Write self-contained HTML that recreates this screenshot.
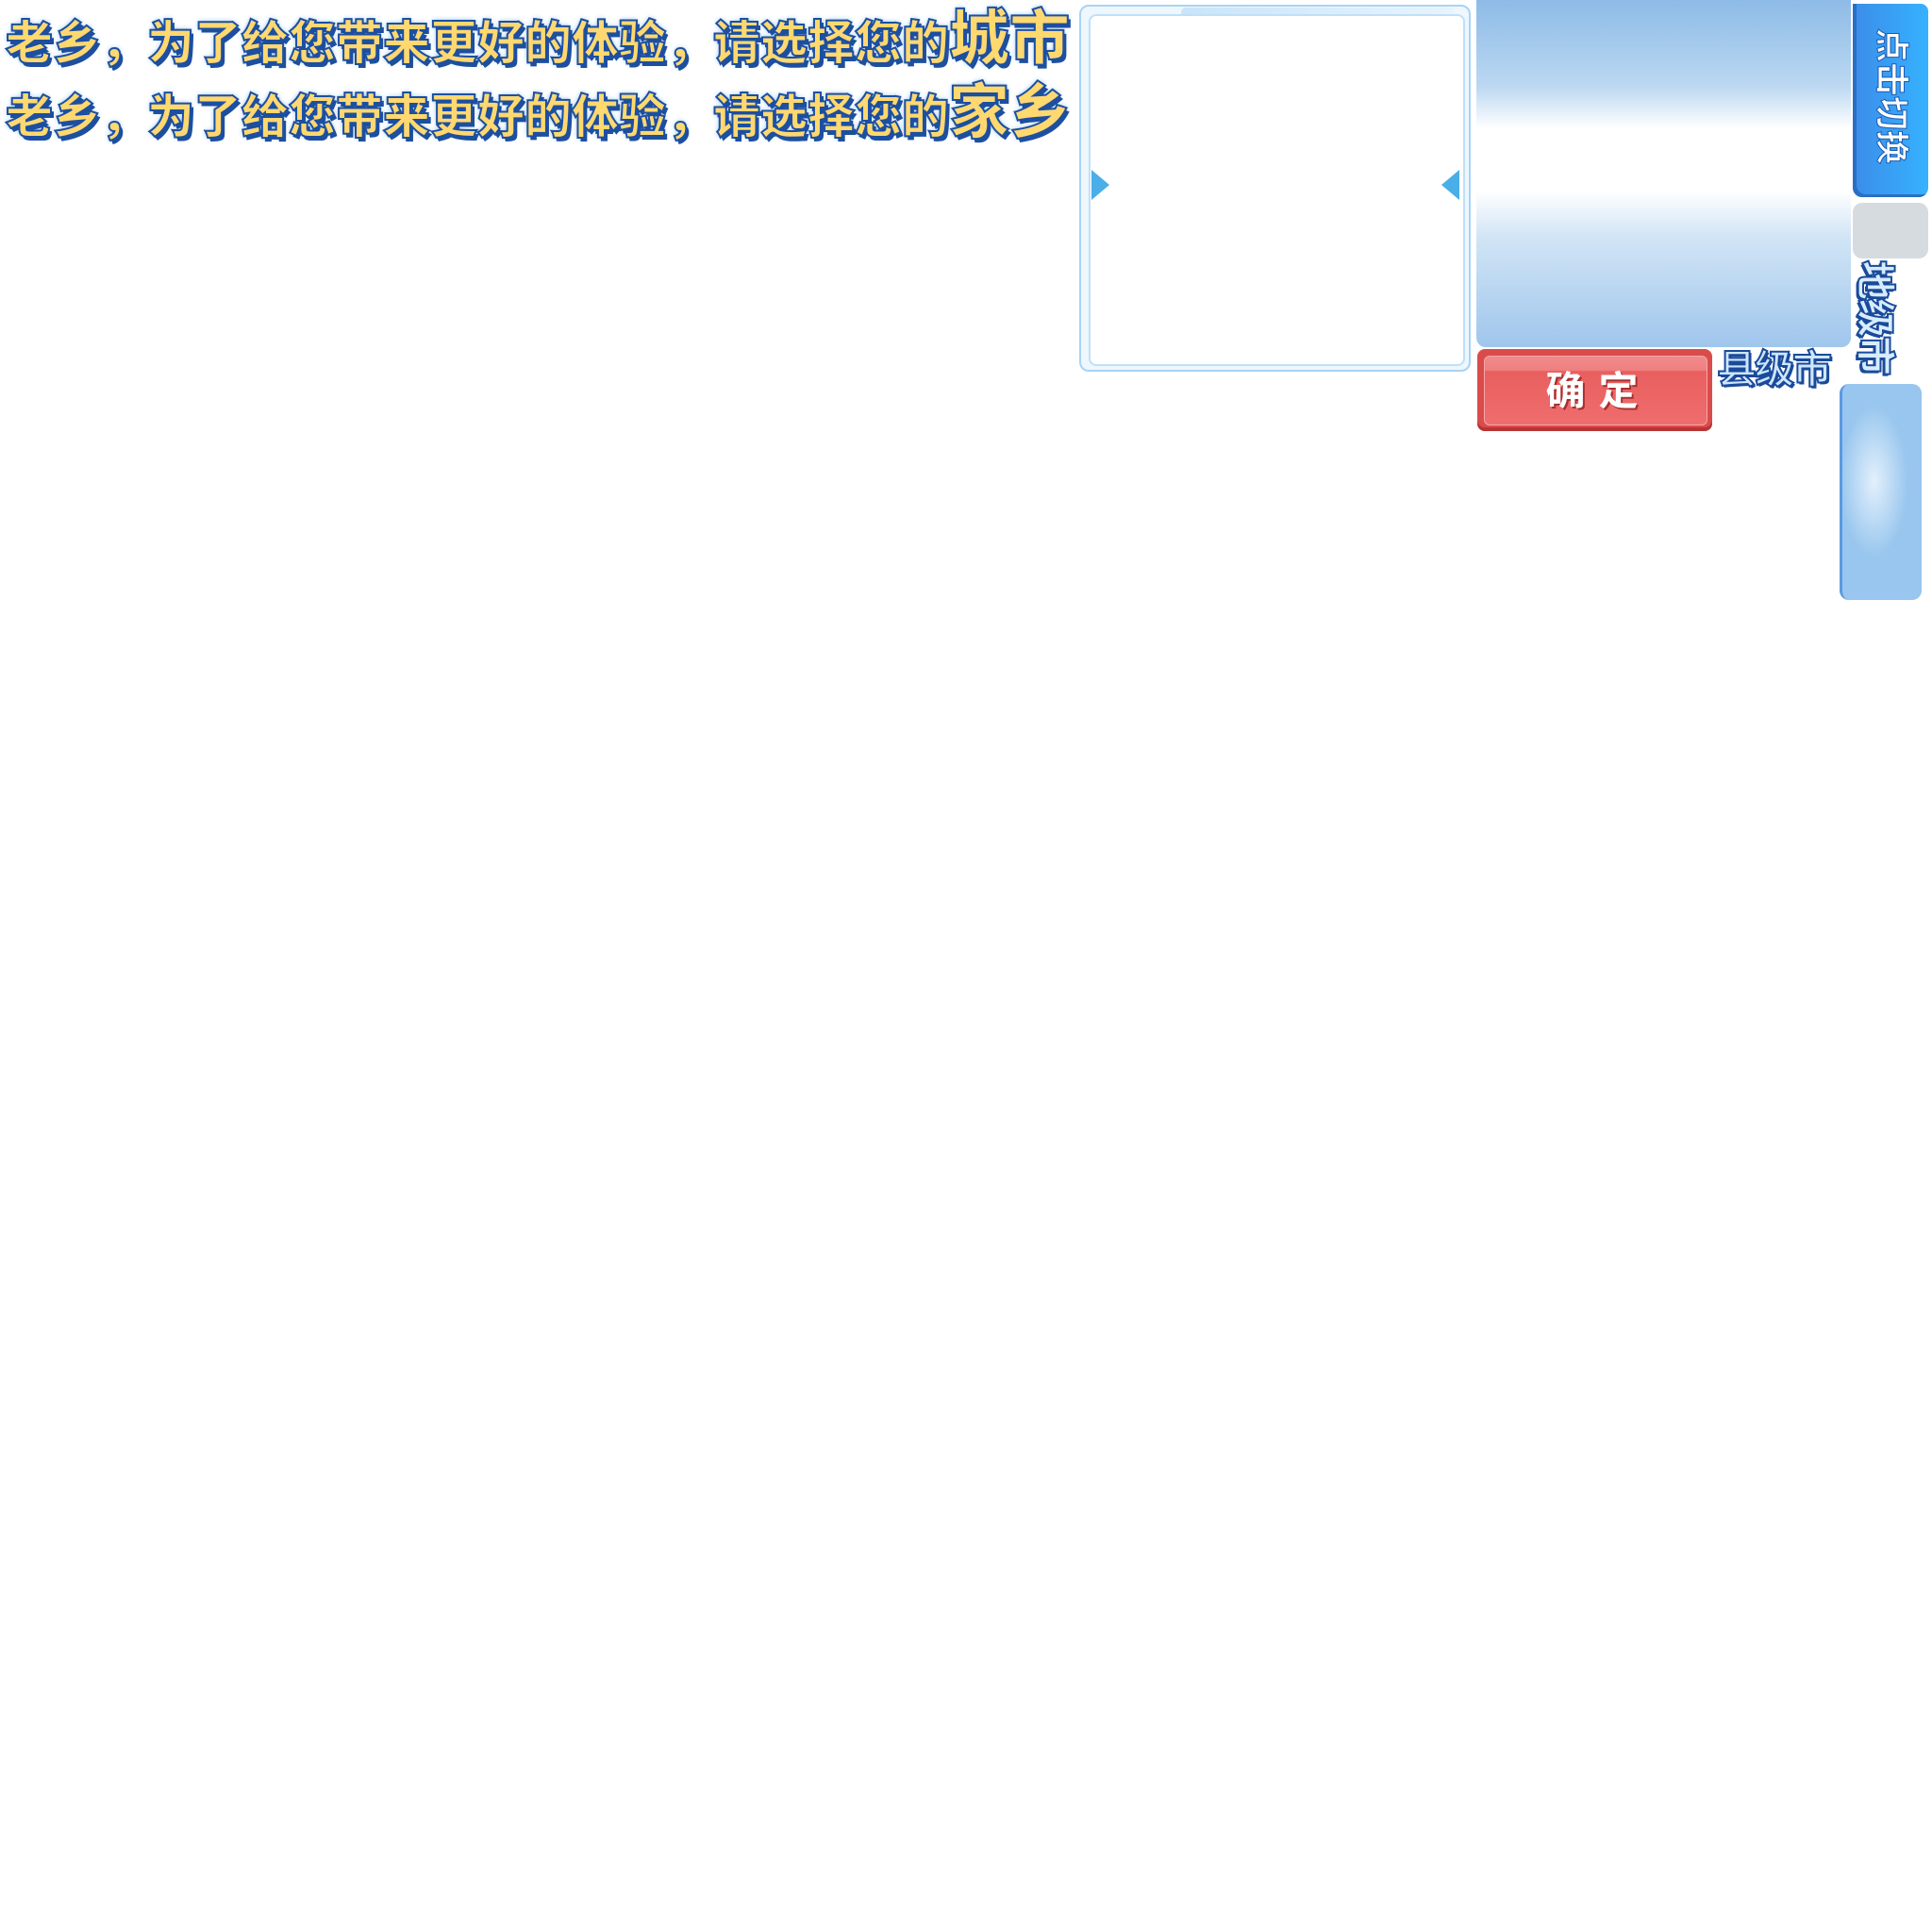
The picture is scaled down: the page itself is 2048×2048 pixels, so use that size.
<!DOCTYPE html>
<html><head><meta charset="utf-8"><style>
html,body{margin:0;padding:0;background:#fff;}
body{width:2048px;height:2048px;position:relative;overflow:hidden;font-family:"Liberation Sans","Noto Sans CJK SC",sans-serif;}
.a{position:absolute;}
.t{font-family:"Liberation Sans","WenQuanYi Zen Hei","Noto Sans CJK SC",sans-serif;font-weight:900;color:#ffd870;white-space:nowrap;
 -webkit-text-stroke:2px #1d4fa0;text-shadow:3px 4px 0 #1d4fa0,0 0 6px #6fb2f0;letter-spacing:0;}
.big{font-size:64px;}
.v{writing-mode:vertical-rl;text-orientation:sideways;}
</style></head><body>
<div class="a t" style="left:6px;top:6px;font-size:50px;line-height:70px;">老乡，为了给您带来更好的体验，请选择您的<span class="big">城市</span></div>
<div class="a t" style="left:6px;top:84px;font-size:50px;line-height:70px;">老乡，为了给您带来更好的体验，请选择您的<span class="big">家乡</span></div>

<div class="a" style="left:1144px;top:5px;width:411px;height:385px;border:2px solid #a9d3f5;border-radius:10px;background:#eef7fe;"></div>
<div class="a" style="left:1252px;top:8px;width:290px;height:10px;background:linear-gradient(90deg,#c9e4f8,#e8f4fd);border-radius:6px;"></div>
<div class="a" style="left:1252px;top:378px;width:290px;height:10px;background:linear-gradient(90deg,#c9e4f8,#e8f4fd);border-radius:6px;"></div>
<div class="a" style="left:1154px;top:15px;width:395px;height:369px;background:#fff;border:2px solid #bfe0f8;border-radius:8px;"></div>
<div class="a" style="left:1157px;top:180px;width:0;height:0;border-top:16px solid transparent;border-bottom:16px solid transparent;border-left:19px solid #4aaee8;"></div>
<div class="a" style="left:1528px;top:180px;width:0;height:0;border-top:16px solid transparent;border-bottom:16px solid transparent;border-right:19px solid #4aaee8;"></div>

<div class="a" style="left:1565px;top:0;width:397px;height:368px;border-radius:0 0 10px 10px;background:linear-gradient(180deg,#8dbbe6 0%,#bcd8f2 25%,#fff 37%,#fff 55%,#d2e5f6 68%,#9fc6ec 100%);"></div>

<div class="a" style="left:1566px;top:370px;width:249px;height:87px;border-radius:8px;background:#d94c4c;box-shadow:inset 0 -4px 0 #b83535;"></div>
<div class="a" style="left:1573px;top:377px;width:235px;height:72px;border-radius:6px;background:linear-gradient(180deg,#f08a8a 0%,#f08080 20%,#e95f5f 22%,#ef6d6d 100%);border:1px solid #f6a6a6;"></div>
<div class="a" style="left:1570px;top:385px;width:249px;text-align:center;font-size:42px;font-weight:bold;color:#fff;text-shadow:2px 2px 0 #a83030;line-height:60px;letter-spacing:14px;">确定</div>

<div class="a" style="left:1820px;top:366px;font-size:42px;font-weight:bold;color:#cde6ff;-webkit-text-stroke:2px #1a4a9a;line-height:52px;text-shadow:2px 2px 0 #1a4a9a;letter-spacing:-2px;">县级市</div>

<div class="a" style="left:1964px;top:4px;width:80px;height:205px;border-radius:0 8px 10px 10px;background:linear-gradient(90deg,#3b8ce8,#36b2ff);box-shadow:inset 4px -3px 0 #2a6fc4;"></div>
<div class="a v" style="left:1980px;top:30px;width:50px;font-size:36px;font-weight:bold;color:#fff;-webkit-text-stroke:1px #1d5bb0;line-height:50px;">点击切换</div>
<div class="a" style="left:1964px;top:215px;width:80px;height:59px;border-radius:10px;background:#d6dbe0;"></div>
<div class="a v" style="left:1962px;top:276px;width:50px;font-size:42px;font-weight:900;color:#d6ecff;-webkit-text-stroke:2px #1a4a9a;text-shadow:2px 2px 0 #1a4a9a;line-height:50px;letter-spacing:-2px;">地级市</div>

<div class="a" style="left:1950px;top:407px;width:84px;height:229px;border-radius:10px;background:radial-gradient(ellipse 40px 90px at 40% 45%,#e3f0fc,#98c6ee 90%);border-left:3px solid #5c9ae0;"></div>
</body></html>
